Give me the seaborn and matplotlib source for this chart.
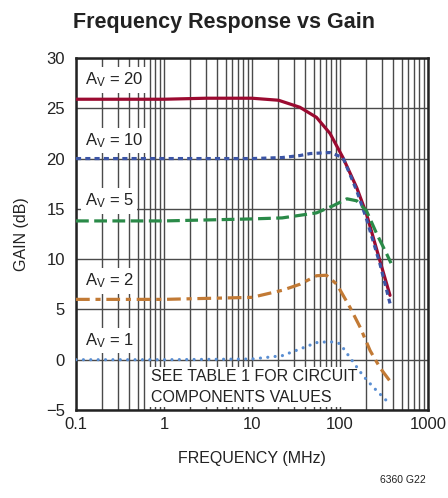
import numpy as np
import pandas as pd
import matplotlib
matplotlib.use("Agg")
import matplotlib.pyplot as plt
import seaborn as sns
from matplotlib import font_manager as fm

# ---- data ----
f20 = [0.1, 1, 3, 10, 20, 35, 54, 77, 108, 155, 200, 285, 370]
g20 = [25.9, 25.9, 26.0, 26.0, 25.8, 25.1, 24.1, 22.5, 20.1, 17.1, 14.5, 9.8, 6.4]

f10 = [0.1, 1, 10, 22, 35, 46, 77, 108, 155, 200, 285, 370]
g10 = [20.0, 20.0, 20.0, 20.1, 20.3, 20.5, 20.6, 20.1, 16.8, 14.0, 9.5, 5.6]

f5 = [0.1, 1, 10, 22, 54, 83, 120, 155, 200, 262, 340, 380]
g5 = [13.8, 13.8, 14.0, 14.1, 14.6, 15.3, 16.0, 15.8, 14.8, 12.5, 10.5, 9.6]

f2 = [0.1, 1, 10, 22, 35, 54, 70, 92, 130, 170, 220, 285, 390]
g2 = [6.0, 6.0, 6.2, 6.9, 7.5, 8.35, 8.4, 7.5, 5.2, 3.2, 0.9, -0.8, -2.4]

f1 = [0.1, 1, 10, 22, 35, 54, 77, 100, 130, 183, 240, 340, 370]
g1 = [0.0, 0.0, 0.07, 0.4, 1.06, 1.7, 1.8, 1.6, 0.2, -1.6, -2.75, -4.1, -4.3]

gain_labels = ["20", "10", "5", "2", "1"]
label_y = [27.8, 21.8, 15.8, 7.85, 1.9]
x_ticks = [0.1, 1, 10, 100, 1000]
x_tick_labels = ["0.1", "1", "10", "100", "1000"]
y_ticks = [-5, 0, 5, 10, 15, 20, 25, 30]
y_tick_labels = ["\u22125", "0", "5", "10", "15", "20", "25", "30"]

sns.set_theme(style="white")
avail = {f.name for f in fm.fontManager.ttflist}
narrow = "Liberation Sans Narrow" if "Liberation Sans Narrow" in avail else "Liberation Sans"
plt.rcParams["font.family"] = [narrow, "DejaVu Sans"]
plt.rcParams["mathtext.fontset"] = "custom"
plt.rcParams["mathtext.rm"] = narrow
plt.rcParams["mathtext.it"] = narrow

fig = plt.figure(figsize=(4.48, 4.98), dpi=100)
ax = fig.add_axes([76 / 448, 1 - 410 / 498, 352 / 448, 352 / 498])

series = [
    (f20, g20, "#9b0a30", "-", 2.3, "butt"),
    (f10, g10, "#3c55a5", (0, (1.6, 1.3)), 2.3, "butt"),
    (f5, g5, "#2a8a48", (0, (4.0, 1.7)), 2.3, "butt"),
    (f2, g2, "#c27a35", (0, (4.3, 1.8, 1.6, 1.8)), 2.3, "butt"),
    (f1, g1, "#5a8ed2", (0, (0.01, 2.3)), 2.3, "round"),
]
for fx, gy, col, ls, lw, cap in series:
    df = pd.DataFrame({"freq": fx, "gain": gy})
    sns.lineplot(data=df, x="freq", y="gain", ax=ax, color=col, linestyle=ls,
                 linewidth=lw, dash_capstyle=cap, zorder=4)

ax.set_xscale("log")
ax.set_xlim(0.1, 1000)
ax.set_ylim(-5, 30)
ax.set_xticks(x_ticks)
ax.set_xticklabels(x_tick_labels)
ax.set_yticks(y_ticks)
ax.set_yticklabels(y_tick_labels)
ax.xaxis.set_minor_locator(matplotlib.ticker.LogLocator(base=10, subs=np.arange(2, 10)))
ax.xaxis.set_minor_formatter(matplotlib.ticker.NullFormatter())
ax.grid(True, which="both", axis="x", color="#4a4a4a", linewidth=1.0, zorder=1)
ax.grid(True, which="major", axis="y", color="#4a4a4a", linewidth=1.0, zorder=1)
ax.tick_params(axis="both", which="both", length=0, labelsize=12, colors="#222222")
ax.tick_params(axis="y", pad=8)
ax.tick_params(axis="x", pad=5)
for s in ax.spines.values():
    s.set_color("#222222")
    s.set_linewidth(1.8)

ax.set_xlabel("FREQUENCY (MHz)", fontsize=11.5, color="#222222", labelpad=14)
ax.set_ylabel("GAIN (dB)", fontsize=11.5, color="#222222", labelpad=12)

for lab, ly in zip(gain_labels, label_y):
    ax.text(0.125, ly, r"A$_\mathrm{V}$ = " + lab, fontsize=12, color="#222222",
            va="center", ha="left", zorder=3,
            bbox=dict(facecolor="white", edgecolor="none", pad=2.5))

ax.text(0.71, -2.7, "SEE TABLE 1 FOR CIRCUIT\nCOMPONENTS VALUES", fontsize=11.5,
        color="#222222", va="center", ha="left", linespacing=1.45, zorder=3,
        bbox=dict(facecolor="white", edgecolor="none", pad=1.5))

fig.text(0.5, 0.955, "Frequency Response vs Gain", fontsize=15.5, fontweight="bold",
         color="#222222", ha="center", va="center")
fig.text(0.95, 0.036, "6360 G22", fontsize=7.5, color="#222222", ha="right", va="center")

fig.savefig("out.png", dpi=100)
